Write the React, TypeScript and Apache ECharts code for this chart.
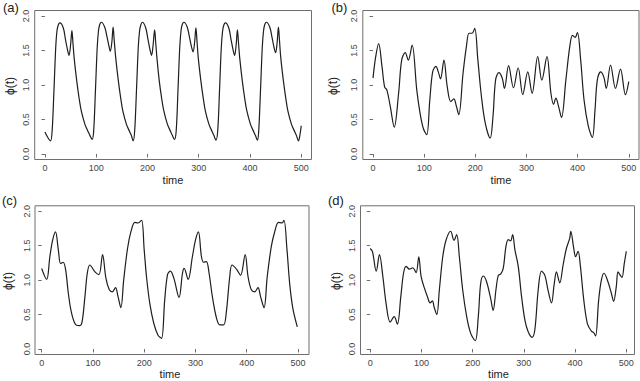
import React, { useEffect, useRef } from "react";
import * as echarts from "echarts";

// ---------- data ----------
const xTicks = [0, 100, 200, 300, 400, 500];
const yTicks = [0, 0.5, 1, 1.5, 2];
const xTitle = "time";
const yTitle = "ϕ(t)";
const panelLabels = ["(a)", "(b)", "(c)", "(d)"];

const tA = [
  0, 4, 8, 11, 14, 17.5, 21, 23.4, 26, 29, 35.7, 40, 44, 47, 50, 52.6, 54.5, 57, 62, 67, 71, 78, 84.5, 87.6, 92,
  95, 98.5, 102, 104.5, 107, 110, 116.5, 121, 125, 127.5, 130.5, 133, 135, 138, 143, 148, 152, 159, 165.5, 168.5, 172,
  175, 178.5, 182, 184.5, 187, 190, 196.5, 201, 205, 208, 211, 214, 216, 218.5, 223, 228, 232, 239, 245.5, 248.5, 252.5,
  256, 259.5, 263, 265.5, 268, 271, 277.5, 282, 286, 289, 292, 294.5, 296.5, 299, 304, 309, 313, 320, 326.5, 329.5, 333.5,
  337, 340.5, 344, 346.5, 349, 352, 358.5, 363, 367, 370, 373, 375.5, 377.5, 380, 385, 390, 394, 401, 407.5, 410.5, 414.5,
  417, 420.5, 424, 426.5, 429, 432, 438.5, 443, 447, 450, 453, 455.5, 457.5, 460, 465, 470, 474, 481, 487.5, 490.5, 494.5,
  497.5, 500,
];
const phiA = [
  0.32, 0.26, 0.21, 0.19, 0.33, 0.91, 1.54, 1.78, 1.87, 1.9, 1.83, 1.66, 1.51, 1.43, 1.58, 1.79, 1.62, 1.39, 1.06, 0.79, 0.62, 0.43, 0.32, 0.27, 0.21,
  0.33, 0.92, 1.55, 1.79, 1.88, 1.91, 1.84, 1.7, 1.56, 1.49, 1.62, 1.84, 1.66, 1.4, 1.07, 0.8, 0.62, 0.43, 0.32, 0.27, 0.19,
  0.33, 0.91, 1.54, 1.78, 1.87, 1.91, 1.83, 1.66, 1.51, 1.43, 1.58, 1.8, 1.62, 1.39, 1.06, 0.79, 0.62, 0.43, 0.32, 0.27, 0.21,
  0.33, 0.92, 1.55, 1.79, 1.88, 1.91, 1.84, 1.69, 1.55, 1.48, 1.62, 1.83, 1.65, 1.4, 1.07, 0.8, 0.62, 0.43, 0.32, 0.27, 0.2,
  0.33, 0.91, 1.54, 1.78, 1.87, 1.9, 1.83, 1.66, 1.51, 1.43, 1.58, 1.8, 1.62, 1.39, 1.06, 0.79, 0.62, 0.43, 0.32, 0.27, 0.2,
  0.33, 0.92, 1.55, 1.79, 1.88, 1.91, 1.84, 1.69, 1.54, 1.47, 1.62, 1.84, 1.65, 1.4, 1.07, 0.8, 0.62, 0.43, 0.32, 0.27, 0.19,
  0.28, 0.41,
];

const tB = [
  0, 5, 11, 17.5, 22.7, 27, 33.7, 41.5, 50, 56, 63, 69, 76.4, 85.5, 92, 98.4, 105, 111, 116.6, 123, 127.6, 132, 138.6,
  145, 152, 158, 163, 167.7, 176, 182.6, 187.8, 193.6, 198.8, 205, 212, 219.6, 229, 234.5, 239.6, 246, 252.6, 257,
  265, 274.6, 283.7, 292.7, 302.5, 311, 322, 330, 340, 347.8, 353, 357.5, 362.7, 368.5, 377, 384.7, 390, 395, 399.6,
  406, 412.6, 421, 428.8, 434, 438.5, 445, 451.4, 456, 464.4, 474, 483.8, 493.5, 500,
];
const phiB = [
  1.1, 1.4, 1.6, 1.27, 0.97, 0.93, 0.69, 0.39, 0.88, 1.36, 1.47, 1.36, 1.58, 0.93, 0.59, 0.37, 0.28, 0.78, 1.19, 1.27, 1.19, 1.09, 1.36,
  0.98, 0.76, 0.8, 0.69, 0.57, 1.17, 1.56, 1.75, 1.75, 1.82, 1.36, 0.83, 0.44, 0.23, 0.54, 1.07, 1.18, 1.1, 0.95,
  1.28, 0.96, 1.25, 0.86, 1.19, 0.88, 1.41, 1.07, 1.41, 0.88, 0.72, 0.81, 0.69, 0.53, 1.07, 1.56, 1.72, 1.69, 1.76,
  1.36, 0.78, 0.4, 0.24, 0.64, 1.07, 1.19, 1.11, 0.95, 1.29, 0.95, 1.23, 0.86, 1.05,
];

const tC = [
  0, 9.7, 16, 21.4, 27, 32.5, 37, 42, 46.8, 52, 58.4, 67, 74.7, 79, 84.4, 89, 94, 104, 111.7, 118.8, 125.3, 132, 137.7,
  144, 149, 154.5, 160, 167.5, 174, 181.8, 188, 194.8, 200, 204.5, 211, 218.8, 227, 233.8, 240, 245.5, 251, 257.8, 268,
  274.7, 278, 285.7, 294, 300, 305.8, 311.7, 316, 321.4, 326.6, 333, 341, 347.4, 355, 360, 366.9, 371.4, 381, 388, 397,
  402.6, 409, 415.6, 422, 427, 433.8, 440, 448, 454.5, 462, 469, 472.7, 478.6, 483.8, 490, 498.7,
];
const phiC = [
  1.17, 1.01, 1.34, 1.58, 1.7, 1.44, 1.24, 1.26, 1.15, 0.81, 0.52, 0.35, 0.34, 0.4, 0.76, 1.1, 1.22, 1.12, 1.08, 1.37, 1.03, 0.86, 0.83,
  0.89, 0.76, 0.6, 1.0, 1.46, 1.7, 1.84, 1.83, 1.87, 1.44, 1.05, 0.66, 0.37, 0.2, 0.155, 0.71, 1.08, 1.13, 1.03, 0.75,
  1.1, 1.17, 1.01, 1.34, 1.58, 1.7, 1.34, 1.26, 1.27, 1.1, 0.76, 0.45, 0.35, 0.35, 0.52, 1.05, 1.22, 1.15, 1.07, 1.37,
  1.05, 0.86, 0.83, 0.89, 0.76, 0.6, 1.05, 1.49, 1.7, 1.84, 1.83, 1.87, 1.44, 0.95, 0.59, 0.32,
];

const tD = [
  0, 4.5, 11.7, 18, 24.7, 31, 39, 46.8, 53, 59.7, 65, 70, 76.6, 83, 89.6, 94.8, 99.4, 106, 111.7, 117, 121.4, 124.7, 130,
  135, 141.6, 148, 157, 163.6, 168.8, 174, 180.5, 188.3, 196, 205, 211, 215.6, 220.8, 227, 235, 240, 245.5, 250, 255,
  259.7, 265, 269.5, 274, 278, 282.5, 289, 295.5, 302, 308.4, 316, 321.4, 328, 334.4, 341, 347, 354, 359, 363.6, 370,
  376.6, 383, 389.6, 391.6, 397.4, 401, 405.8, 410.4, 417, 424, 431.8, 436, 440, 446, 451.3, 456.5, 464, 470.8, 475.3,
  480.5, 483.8, 488.3, 491.6, 496, 500,
];
const phiD = [
  1.46, 1.41, 1.13, 1.37, 1.05, 0.66, 0.39, 0.47, 0.36, 0.76, 1.1, 1.2, 1.16, 1.18, 1.11, 1.34, 1.05, 0.88, 0.76, 0.67, 0.7, 0.61, 0.5,
  0.86, 1.34, 1.58, 1.71, 1.58, 1.66, 1.34, 0.86, 0.47, 0.23, 0.12, 0.47, 0.95, 1.06, 0.98, 0.74, 0.56, 0.86, 1.07, 1.09,
  1.17, 1.49, 1.59, 1.57, 1.66, 1.44, 1.2, 0.76, 0.42, 0.25, 0.17, 0.28, 0.86, 1.13, 1.07, 0.86, 0.67, 0.93, 1.12, 0.96,
  1.22, 1.46, 1.61, 1.71, 1.46, 1.34, 1.42, 1.2, 0.71, 0.37, 0.26, 0.24, 0.19, 0.71, 1.0, 1.1, 0.98, 0.81, 0.69,
  0.91, 1.12, 1.07, 1.04, 1.24, 1.42,
];

const seriesT = [tA, tB, tC, tD];
const seriesPhi = [phiA, phiB, phiC, phiD];

// ---------- layout ----------
const FONT = "'Liberation Sans', Arial, Helvetica, sans-serif";
const panels = [
  { left: 34.7, top: 10.5, width: 276.8, height: 149, xMin: -20, xMax: 520, label: [3, 7], yT: [10, 86], xT: [173, 180] },
  { left: 362.8, top: 10.5, width: 276.2, height: 149, xMin: -20, xMax: 520, label: [331.5, 7], yT: [332.5, 86], xT: [501, 180] },
  { left: 35, top: 205.8, width: 274, height: 148.7, xMin: -13, xMax: 521.5, label: [2, 200], yT: [7.5, 281], xT: [170, 374] },
  { left: 360.5, top: 205.8, width: 274, height: 148.7, xMin: -19, xMax: 516, label: [328, 200], yT: [336, 281], xT: [498.5, 374] },
];

export default function App() {
  const ref = useRef<HTMLDivElement>(null);
  useEffect(() => {
    document.body.style.margin = "0";
    if (!ref.current) return;
    const chart = echarts.init(ref.current, undefined, { renderer: "svg" });
    const grid = panels.map((p) => ({
      left: p.left,
      top: p.top,
      width: p.width,
      height: p.height,
      show: true,
      borderColor: "#6e6e6e",
      borderWidth: 1,
      backgroundColor: "transparent",
    }));
    const xAxis = panels.map((p, i) => ({
      type: "value",
      gridIndex: i,
      min: p.xMin,
      max: p.xMax,
      axisLine: { show: false },
      splitLine: { show: false },
      axisTick: { show: true, length: 3.5, customValues: xTicks, lineStyle: { color: "#6e6e6e" } },
      axisLabel: { customValues: xTicks, fontSize: 9, color: "#444", margin: 4, fontFamily: FONT },
    }));
    const yAxis = panels.map((p, i) => ({
      type: "value",
      gridIndex: i,
      min: -0.08,
      max: 2.08,
      axisLine: { show: false },
      splitLine: { show: false },
      axisTick: { show: true, length: 3.5, customValues: yTicks, lineStyle: { color: "#6e6e6e" } },
      axisLabel: {
        customValues: yTicks,
        fontSize: 9,
        color: "#444",
        margin: 4,
        rotate: 90,
        fontFamily: FONT,
        formatter: (v: number) => v.toFixed(1),
      },
    }));
    const series = panels.map((p, i) => ({
      type: "line",
      xAxisIndex: i,
      yAxisIndex: i,
      data: seriesT[i].map((t, k) => [t, seriesPhi[i][k]]),
      smooth: 0.35,
      showSymbol: false,
      lineStyle: { color: "#1e1e1e", width: 1.2 },
      silent: true,
    }));
    const graphic: any[] = [];
    panels.forEach((p, i) => {
      graphic.push({
        type: "text",
        x: p.label[0],
        y: p.label[1],
        style: { text: panelLabels[i], font: `13px ${FONT}`, fill: "#222", textAlign: "left", textVerticalAlign: "middle" },
      });
      graphic.push({
        type: "text",
        x: p.yT[0],
        y: p.yT[1],
        rotation: Math.PI / 2,
        style: { text: yTitle, font: `12px ${FONT}`, fill: "#222", textAlign: "center", textVerticalAlign: "middle" },
      });
      graphic.push({
        type: "text",
        x: p.xT[0],
        y: p.xT[1],
        style: { text: xTitle, font: `11px ${FONT}`, fill: "#222", textAlign: "center", textVerticalAlign: "middle" },
      });
    });
    chart.setOption({
      animation: false,
      backgroundColor: "#ffffff",
      grid,
      xAxis,
      yAxis,
      series,
      graphic,
    } as any);
    return () => chart.dispose();
  }, []);
  return <div ref={ref} style={{ width: 640, height: 381 }} />;
}
